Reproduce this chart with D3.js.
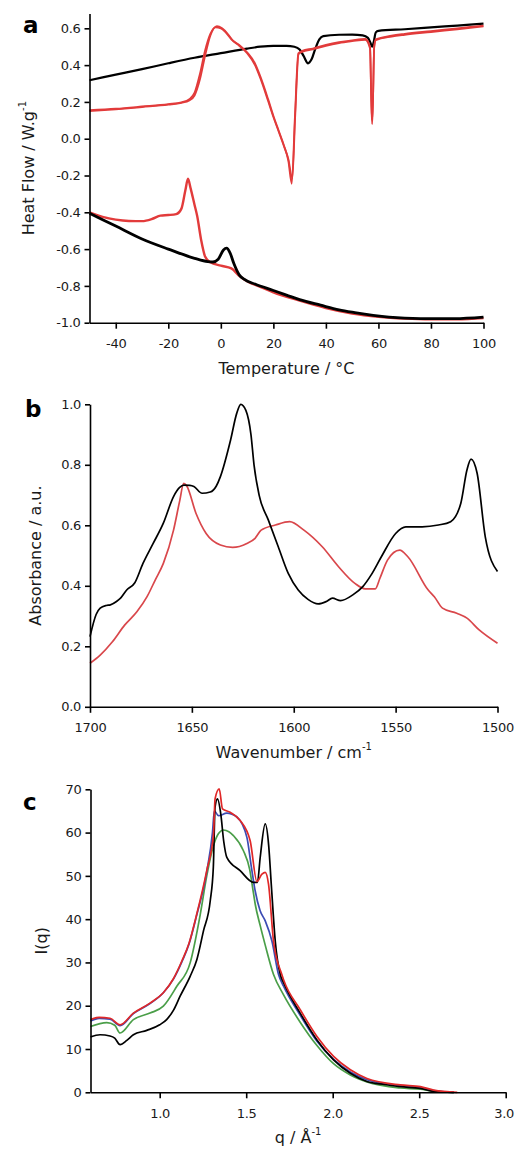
<!DOCTYPE html>
<html>
<head>
<meta charset="utf-8">
<script src="https://cdnjs.cloudflare.com/ajax/libs/d3/7.8.5/d3.min.js"></script>
<style>
  body { margin: 0; background: #fff; }
  svg text { font-family: "DejaVu Sans", Verdana, sans-serif; fill: #1a1a1a; }
  .tick text { font-size: 13px; letter-spacing: -0.3px; }
  .domain, .tick line { stroke: #000; stroke-width: 1.6px; }
  .title { font-size: 16px; }
  .panel-label { font-size: 23px; font-weight: bold; fill: #000; }
</style>
</head>
<body>
<svg id="fig" width="515" height="1153"></svg>
<script>
// ---- panel a : DSC, temperature (°C) vs heat flow (W/g) ----
const dscTicksX = [-40, -20, 0, 20, 40, 60, 80, 100];
const dscTicksY = [-1.0, -0.8, -0.6, -0.4, -0.2, 0.0, 0.2, 0.4, 0.6];

const blackHeat = [[-50,0.318],[-40,0.348],[-30,0.378],[-20,0.41],[-10,0.44],[0,0.465],[10,0.49],[15,0.5],[20,0.505],[25,0.505],
  [28,0.5],[30,0.485],[31.5,0.45],[33.2,0.41],[34.5,0.43],[36,0.49],[37.5,0.54],[39,0.558],[45,0.565],[50,0.566],[54,0.562],
  [56,0.548],[57,0.52],[57.6,0.5],[58.2,0.525],[59,0.578],[60,0.586],[70,0.595],[80,0.605],[90,0.615],[100,0.625]];

const redHeat1 = [[-50,0.155],[-40,0.163],[-30,0.175],[-20,0.188],[-15,0.198],[-12,0.215],[-10,0.25],[-8,0.35],[-6,0.48],
  [-4,0.57],[-2,0.605],[0,0.6],[2,0.575],[4,0.54],[7,0.51],[10,0.47],[13,0.409],[15,0.34],[18,0.215],[20,0.125],[22,0.045],
  [24,-0.035],[25.7,-0.12],[27,-0.245],[28.2,0.118],[29.5,0.464],[31,0.478],[35,0.49],[40,0.51],[45,0.525],[50,0.535],
  [55,0.542],[56.8,0.5],[57.3,0.2],[57.6,0.08],[57.9,0.2],[58.4,0.5],[59,0.54],[65,0.56],[70,0.57],[80,0.585],[90,0.6],[100,0.615]];

const redHeat2 = [[-50,0.15],[-40,0.16],[-30,0.172],[-20,0.185],[-15,0.195],[-12,0.208],[-10,0.235],[-8,0.32],[-6,0.45],
  [-4,0.56],[-1.5,0.612],[0.5,0.6],[2.5,0.572],[4.5,0.535],[7,0.505],[10,0.465],[13,0.4],[15,0.33],[18,0.205],[20,0.118],
  [22,0.04],[24,-0.04],[25.7,-0.11],[27.2,-0.215],[28.3,0.12],[29.6,0.46],[31,0.472],[35,0.485],[40,0.505],[45,0.52],
  [50,0.53],[55,0.538],[56.8,0.49],[57.3,0.2],[57.6,0.1],[57.9,0.2],[58.4,0.5],[59,0.535],[65,0.555],[70,0.565],[80,0.58],
  [90,0.595],[100,0.61]];

const blackCool = [[-50,-0.405],[-40,-0.475],[-30,-0.545],[-20,-0.6],[-10,-0.65],[-5,-0.668],[-3,-0.67],[-1,-0.655],[1,-0.605],
  [2.2,-0.595],[3.5,-0.62],[5,-0.68],[7,-0.74],[9,-0.765],[13,-0.79],[20,-0.825],[25,-0.85],[30,-0.875],[38,-0.905],[45,-0.93],
  [51,-0.945],[58,-0.96],[64,-0.97],[76,-0.978],[89,-0.978],[100,-0.97]];

const redCool = [[-50,-0.4],[-45,-0.425],[-40,-0.44],[-35,-0.447],[-30,-0.448],[-26,-0.435],[-23,-0.418],[-20,-0.415],
  [-17,-0.41],[-15,-0.38],[-13.5,-0.28],[-12.5,-0.218],[-11.5,-0.27],[-10,-0.36],[-9,-0.42],[-7.5,-0.55],[-6,-0.64],
  [-4,-0.672],[0,-0.69],[4,-0.705],[7,-0.745],[10,-0.775],[15,-0.805],[20,-0.835],[30,-0.88],[40,-0.92],[50,-0.95],
  [60,-0.968],[70,-0.978],[80,-0.982],[90,-0.982],[100,-0.975]];

// ---- panel b : FTIR, wavenumber vs absorbance ----
const irTicksX = [1700, 1650, 1600, 1550, 1500];
const irTicksY = [0.0, 0.2, 0.4, 0.6, 0.8, 1.0];

const irBlack = [[1700,0.232],[1697,0.305],[1695,0.326],[1692,0.335],[1690,0.337],[1687,0.348],[1685,0.359],[1682,0.386],
  [1678,0.41],[1674,0.474],[1669,0.54],[1664,0.607],[1659,0.695],[1656,0.725],[1654,0.733],[1651,0.732],[1649,0.728],
  [1645,0.706],[1641,0.71],[1638,0.73],[1636,0.761],[1631,0.882],[1628,0.97],[1626,1.0],[1623.5,0.98],[1621,0.9],
  [1619.5,0.8],[1617,0.7],[1612.5,0.618],[1607.6,0.529],[1602.7,0.441],[1597.8,0.386],[1593,0.355],[1588,0.34],
  [1584,0.348],[1581,0.359],[1577,0.351],[1571,0.37],[1566,0.398],[1562,0.436],[1557,0.496],[1550,0.573],[1545,0.595],
  [1537,0.595],[1529,0.601],[1523,0.612],[1518,0.673],[1515,0.783],[1513,0.819],[1510,0.772],[1506,0.562],[1500,0.447]];

const irRed = [[1700,0.144],[1695,0.171],[1689,0.215],[1683,0.27],[1677,0.314],[1672,0.364],[1668,0.419],[1664,0.474],
  [1659,0.584],[1656,0.68],[1654,0.739],[1652.5,0.73],[1648,0.64],[1643,0.573],[1636,0.535],[1630,0.527],[1623,0.54],
  [1619,0.557],[1616,0.584],[1609,0.601],[1602,0.612],[1595,0.584],[1586,0.529],[1578,0.463],[1570,0.408],[1565,0.39],
  [1560,0.39],[1557.7,0.425],[1554,0.485],[1548,0.518],[1544,0.496],[1534,0.386],[1531,0.364],[1527,0.326],[1520,0.309],
  [1515,0.293],[1509,0.254],[1500,0.21]];

// ---- panel c : scattering, q vs I(q) ----
const sTicksX = [1.0, 1.5, 2.0, 2.5, 3.0];
const sTicksY = [0, 10, 20, 30, 40, 50, 60, 70];

const sBlack = [[0.6,12.8],[0.655,13.3],[0.713,13.0],[0.74,12.5],[0.771,11.0],[0.81,12.0],[0.848,13.3],[0.925,14.3],[1.0,15.6],
  [1.04,16.8],[1.08,19],[1.118,22.2],[1.176,26.8],[1.215,30.7],[1.253,37.3],[1.292,44.2],[1.31,52],[1.32,65.9],[1.334,67.8],
  [1.353,64.3],[1.37,58],[1.388,54.3],[1.465,51.2],[1.542,48.5],[1.565,48.5],[1.581,54.3],[1.61,62.0],[1.63,57],[1.645,48],
  [1.668,34.9],[1.697,27.2],[1.716,25.3],[1.812,18.3],[1.909,12.1],[2.005,7.5],[2.102,4.4],[2.198,2.5],[2.3,1.8],[2.391,1.3],
  [2.507,0.9],[2.584,0.2],[2.7,0]];

const sRed = [[0.6,16.8],[0.65,17.3],[0.713,17.1],[0.771,15.6],[0.848,18.3],[0.944,20.6],[1.021,23.0],[1.08,26.3],[1.13,30.5],
  [1.17,34.5],[1.21,40.5],[1.272,51.2],[1.311,59.7],[1.32,67.8],[1.344,70.1],[1.363,65.5],[1.407,64.7],[1.465,62.8],[1.523,58.1],
  [1.562,48.7],[1.591,50.4],[1.61,50.8],[1.629,48.1],[1.658,34.9],[1.706,27.2],[1.716,26],[1.812,19.1],[1.909,12.9],[2.005,8.3],
  [2.102,5.2],[2.198,3.2],[2.391,1.7],[2.507,1.3],[2.584,0.5],[2.72,0]];

const sBlue = [[0.6,16.5],[0.65,17.1],[0.713,16.9],[0.771,15.4],[0.848,18.2],[0.944,20.5],[1.021,23.0],[1.08,26.2],[1.13,30.3],
  [1.17,34.3],[1.21,40.3],[1.272,51],[1.305,60],[1.316,65.0],[1.34,63.9],[1.388,64.5],[1.446,63.6],[1.504,58.9],[1.53,52],
  [1.552,46.5],[1.58,42],[1.61,39.6],[1.649,34.9],[1.687,27.2],[1.716,24.5],[1.812,17.8],[1.909,11.8],[2.005,7.6],[2.102,4.7],
  [2.198,2.9],[2.391,1.5],[2.507,1.1],[2.584,0.4],[2.7,0]];

const sGreen = [[0.6,15.2],[0.694,16.1],[0.74,15.5],[0.771,13.7],[0.848,16.8],[0.944,18.3],[1.021,19.9],[1.099,24.5],[1.176,29.9],
  [1.234,41],[1.272,50],[1.311,57],[1.34,59.8],[1.369,60.6],[1.4,60.2],[1.426,59.3],[1.484,55.8],[1.52,51.5],[1.542,46],
  [1.552,43.5],[1.581,38.5],[1.61,34],[1.658,27.2],[1.716,22.5],[1.812,16.2],[1.909,10.8],[2.005,6.6],[2.102,4.0],[2.198,2.4],
  [2.391,1.0],[2.507,0.7],[2.584,0.2],[2.7,0]];

const svg = d3.select("#fig");

// hyphen instead of the unicode minus d3 puts out
const fmt = f => v => d3.format(f)(v).replace("\u2212", "-");

const drawPanel = function(p) {
  const x = d3.scaleLinear().domain(p.xDomain).range(p.xRange);
  const y = d3.scaleLinear().domain(p.yDomain).range(p.yRange);
  const g = svg.append("g");

  const xAxis = d3.axisBottom(x).tickValues(p.xTicks).tickFormat(fmt(p.xFmt))
    .tickSize(6).tickSizeOuter(0).tickPadding(10);
  const yAxis = d3.axisLeft(y).tickValues(p.yTicks).tickFormat(fmt(p.yFmt))
    .tickSize(5).tickSizeOuter(0).tickPadding(4);

  const line = d3.line()
    .x(d => x(d[0]))
    .y(d => y(d[1]))
    .curve(d3.curveMonotoneX);

  // series (drawn under the axes)
  p.series.forEach(s => {
    const pts = s.data.slice().sort((a, b) => x(a[0]) - x(b[0]));
    g.append("path")
      .attr("d", line(pts))
      .attr("fill", "none")
      .attr("stroke", s.color)
      .attr("stroke-width", s.width)
      .attr("stroke-linejoin", "round");
  });

  const xg = g.append("g").attr("transform", `translate(0,${p.yRange[0]})`).call(xAxis);
  g.append("g").attr("transform", `translate(${p.xRange[0]},0)`).call(yAxis);

  // keep a label that sits at the right page edge inside the page
  xg.selectAll(".tick text").each(function() {
    const b = this.getBBox();
    const t = this.parentNode.transform.baseVal.consolidate().matrix.e;
    if (t + b.x + b.width > 514) d3.select(this).attr("dx", 514 - (t + b.x + b.width));
  });

  // x title
  const xt = g.append("text").attr("class", "title")
    .attr("x", (p.xRange[0] + p.xRange[1]) / 2)
    .attr("y", p.yRange[0] + 51)
    .attr("text-anchor", "middle")
    .text(p.xTitle);
  if (p.xSup) xt.append("tspan").attr("dy", -8).attr("font-size", 10).text(p.xSup);

  // y title, rotated
  const yt = g.append("text").attr("class", "title")
    .attr("transform", `translate(${p.yTitleX},${(p.yRange[0] + p.yRange[1]) / 2}) rotate(-90)`)
    .attr("text-anchor", "middle")
    .text(p.yTitle);
  if (p.ySup) yt.append("tspan").attr("dy", -8).attr("font-size", 10).text(p.ySup);

  g.append("text").attr("class", "panel-label")
    .attr("x", p.label[1]).attr("y", p.label[2])
    .text(p.label[0]);
};

drawPanel({
  xDomain: [-50, 100], xRange: [89.5, 483.5],
  yDomain: [-1.0, 0.68], yRange: [322.7, 13.6],
  xTicks: dscTicksX, yTicks: dscTicksY, xFmt: "d", yFmt: ".1f",
  xTitle: "Temperature / \u00B0C", yTitle: "Heat Flow / W.g", ySup: "-1", yTitleX: 34,
  label: ["a", 23, 33],
  series: [
    { data: redCool, color: "#e23b3b", width: 2.4 },
    { data: blackCool, color: "#000", width: 2.8 },
    { data: blackHeat, color: "#000", width: 2.2 },
    { data: redHeat2, color: "#e23b3b", width: 1.8 },
    { data: redHeat1, color: "#e23b3b", width: 1.8 }
  ]
});

drawPanel({
  xDomain: [1700, 1500], xRange: [90, 497.5],
  yDomain: [0, 1.0], yRange: [706.8, 404.3],
  xTicks: irTicksX, yTicks: irTicksY, xFmt: "d", yFmt: ".1f",
  xTitle: "Wavenumber / cm", xSup: "-1", yTitle: "Absorbance / a.u.", yTitleX: 41,
  label: ["b", 25, 417],
  series: [
    { data: irRed, color: "#d9474b", width: 1.7 },
    { data: irBlack, color: "#000", width: 1.7 }
  ]
});

drawPanel({
  xDomain: [0.6, 3.0], xRange: [90.5, 505.7],
  yDomain: [0, 70], yRange: [1092.3, 789.3],
  xTicks: sTicksX, yTicks: sTicksY, xFmt: ".1f", yFmt: "d",
  xTitle: "q / \u00C5", xSup: "-1", yTitle: "I(q)", yTitleX: 47,
  label: ["c", 23, 810],
  series: [
    { data: sGreen, color: "#4a9e48", width: 1.7 },
    { data: sBlue, color: "#3c4cb4", width: 1.7 },
    { data: sBlack, color: "#000", width: 1.7 },
    { data: sRed, color: "#e02828", width: 1.7 }
  ]
});
</script>
</body>
</html>
